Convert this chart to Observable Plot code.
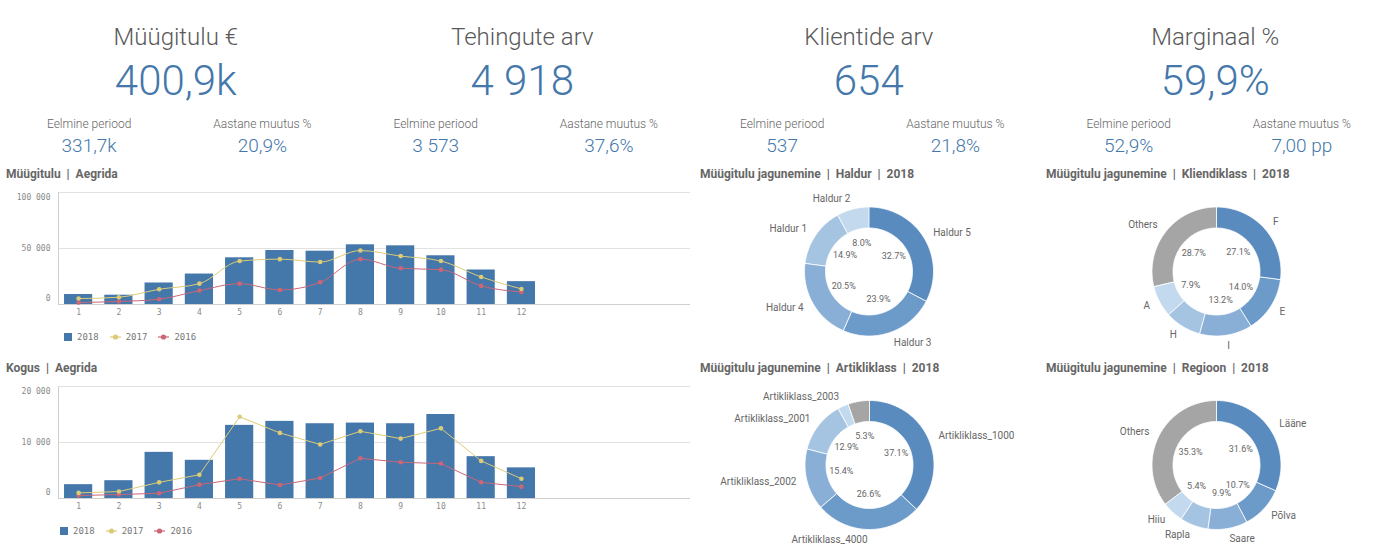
<!DOCTYPE html>
<html>
<head>
<meta charset="utf-8">
<script src="https://cdn.jsdelivr.net/npm/d3@7"></script>
<script src="https://cdn.jsdelivr.net/npm/@observablehq/plot@0.6"></script>
<style>
  html, body { margin: 0; padding: 0; background: #fff; }
  body { width: 1386px; height: 552px; position: relative; overflow: hidden; font-family: Roboto, sans-serif; }
  .abs { position: absolute; }
  .kpi-title { font-size: 24px; font-weight: 300; color: #595959; line-height: 24px; text-align: center; white-space: nowrap; }
  .kpi-value { font-size: 42px; font-weight: 300; color: #4477aa; line-height: 42px; text-align: center; white-space: nowrap; }
  .kpi-sub { font-size: 12px; font-weight: 300; color: #666; line-height: 12px; text-align: center; white-space: nowrap; }
  .kpi-subval { font-size: 19px; font-weight: 300; color: #4477aa; line-height: 19px; text-align: center; white-space: nowrap; }
  .ctitle { font-size: 12px; font-weight: 700; color: #666; line-height: 12px; white-space: pre; }
  .legend { display: flex; align-items: center; font-family: "DejaVu Sans Mono", monospace; font-size: 9px; color: #777; white-space: nowrap; }
  .legend .it { display: flex; align-items: center; margin-right: 11px; }
  .legend svg { margin-right: 5px; }
  svg { overflow: visible; }
</style>
</head>
<body>
<script>
// ---------- DATA ----------
const kpiTitles = ["Müügitulu €", "Tehingute arv", "Klientide arv", "Marginaal %"];
const kpiValues = ["400,9k", "4 918", "654", "59,9%"];
const kpiSubLabels = ["Eelmine periood", "Aastane muutus %"];
const kpiPrev = ["331,7k", "3 573", "537", "52,9%"];
const kpiChange = ["20,9%", "37,6%", "21,8%", "7,00 pp"];

const months = [1, 2, 3, 4, 5, 6, 7, 8, 9, 10, 11, 12];
const years = ["2018", "2017", "2016"];

const sales2018 = [8900, 8300, 19200, 27200, 41700, 48200, 47600, 53300, 52400, 43500, 30800, 20400];
const sales2017 = [5300, 6500, 13600, 18600, 38800, 40500, 37900, 48200, 43200, 38800, 24600, 13900];
const sales2016 = [1800, 2700, 4700, 12400, 18600, 13000, 19800, 40500, 32300, 31100, 16600, 11200];
const salesTicks = [0, 50000, 100000];

const qty2018 = [2470, 3180, 8240, 6820, 13060, 13770, 13350, 13470, 13350, 15000, 7470, 5470];
const qty2017 = [1000, 1240, 2880, 4240, 14590, 11710, 9650, 12000, 10700, 12530, 6710, 3530];
const qty2016 = [530, 710, 940, 2470, 3530, 2410, 3650, 7180, 6470, 6240, 2880, 2120];
const qtyTicks = [0, 10000, 20000];

const chartTitles = ["Müügitulu  |  Aegrida", "Kogus  |  Aegrida"];

const haldurCats = ["Haldur 5", "Haldur 3", "Haldur 4", "Haldur 1", "Haldur 2"];
const haldurPct = [32.7, 23.9, 20.5, 14.9, 8.0];

const klassCats = ["F", "E", "I", "H", "A", "Others"];
const klassPct = [27.1, 14.0, 13.2, 9.1, 7.9, 28.7];
const klassHidePct = ["H"];

const artCats = ["Artikliklass_1000", "Artikliklass_4000", "Artikliklass_2002", "Artikliklass_2001", "Artikliklass_2003", "Others"];
const artPct = [37.1, 26.6, 15.4, 12.9, 2.7, 5.3];
const artHidePct = ["Artikliklass_2003"];
const artHideLabel = ["Others"];

const regCats = ["Lääne", "Põlva", "Saare", "Rapla", "Hiiu", "Others"];
const regPct = [31.6, 10.7, 9.9, 7.1, 5.4, 35.3];
const regHidePct = ["Rapla"];

const donutTitles = [
  "Müügitulu jagunemine  |  Haldur  |  2018",
  "Müügitulu jagunemine  |  Kliendiklass  |  2018",
  "Müügitulu jagunemine  |  Artikliklass  |  2018",
  "Müügitulu jagunemine  |  Regioon  |  2018"
];

// ---------- STYLES ----------
const yearColors = ["#4477aa", "#ddcc77", "#cc6677"];
const bluePalette = ["#5a8bbf", "#6c9ac9", "#89afd7", "#a5c4e2", "#c3daee"];
const othersColor = "#a5a5a5";

// ---------- HELPERS ----------
function place(node, left, top) {
  const d = document.createElement("div");
  d.className = "abs";
  d.style.left = left + "px";
  d.style.top = top + "px";
  d.appendChild(node);
  document.body.appendChild(d);
  return d;
}
function textDiv(cls, text, left, top, width) {
  const d = document.createElement("div");
  d.className = "abs " + cls;
  d.textContent = text;
  d.style.left = left + "px";
  d.style.top = top + "px";
  if (width != null) d.style.width = width + "px";
  document.body.appendChild(d);
  return d;
}

// ---------- KPIs ----------
const colW = 346.5;
kpiTitles.forEach((t, i) => {
  const left = 2.5 + i * colW;
  textDiv("kpi-title", t, left, 24.8, colW);
  textDiv("kpi-value", kpiValues[i], left, 59.6, colW);
  textDiv("kpi-sub", kpiSubLabels[0], left, 117.9, colW / 2);
  textDiv("kpi-sub", kpiSubLabels[1], left + colW / 2, 117.9, colW / 2);
  textDiv("kpi-subval", kpiPrev[i], left, 135.7, colW / 2);
  textDiv("kpi-subval", kpiChange[i], left + colW / 2, 135.7, colW / 2);
});

// ---------- BAR + LINE CHARTS ----------
const loc = d3.formatLocale({decimal: ",", thousands: " ", grouping: [3], currency: ["", "€"]});
const fmtThousands = loc.format(",");
const xDomain = [0.5, 16.2];

function comboChart(v2018, v2017, v2016, ticks, curve) {
  const bars = months.map((m, i) => ({m, v: v2018[i]}));
  const l17 = months.map((m, i) => ({m, v: v2017[i]}));
  const l16 = months.map((m, i) => ({m, v: v2016[i]}));
  const lo = ticks[0], hi = ticks[ticks.length - 1];
  const tickText = {x: xDomain[0], y: d => d, text: d => fmtThousands(d), textAnchor: "end", dx: -8,
    fontFamily: "DejaVu Sans Mono, monospace", fontSize: 8, fill: "#8a8a8a"};
  return Plot.plot({
    width: 700, height: 140,
    marginLeft: 58, marginRight: 10, marginTop: 10, marginBottom: 18,
    style: {fontFamily: "DejaVu Sans Mono, monospace", fontSize: "8px", color: "#8a8a8a", background: "transparent", overflow: "visible"},
    x: {domain: xDomain, ticks: months, tickFormat: d => String(d), tickSize: 0, tickPadding: 5, label: null},
    y: {domain: [lo, hi], axis: null},
    marks: [
      Plot.ruleY(ticks.slice(1), {stroke: "#e2e2e2"}),
      Plot.ruleY([lo], {stroke: "#cfcfcf"}),
      Plot.ruleX([xDomain[0]], {stroke: "#cfcfcf"}),
      Plot.text(ticks.filter(t => t === lo), {...tickText, dy: -6}),
      Plot.text(ticks.filter(t => t !== lo && t !== hi), tickText),
      Plot.text(ticks.filter(t => t === hi), {...tickText, dy: 5}),
      Plot.rectY(bars, {x1: d => d.m - 0.35, x2: d => d.m + 0.35, y: "v", fill: yearColors[0]}),
      Plot.line(l16, {x: "m", y: "v", stroke: yearColors[2], strokeWidth: 1, curve}),
      Plot.dot(l16, {x: "m", y: "v", r: 2.3, fill: yearColors[2], stroke: "none"}),
      Plot.line(l17, {x: "m", y: "v", stroke: yearColors[1], strokeWidth: 1, curve}),
      Plot.dot(l17, {x: "m", y: "v", r: 2.3, fill: yearColors[1], stroke: "none"})
    ]
  });
}

function legend(left, top) {
  const d = document.createElement("div");
  d.className = "abs legend";
  d.style.left = left + "px";
  d.style.top = top + "px";
  d.style.height = "12px";
  years.forEach((y, i) => {
    const it = document.createElement("div");
    it.className = "it";
    const ns = "http://www.w3.org/2000/svg";
    const s = document.createElementNS(ns, "svg");
    if (i === 0) {
      s.setAttribute("width", 8); s.setAttribute("height", 8);
      const r = document.createElementNS(ns, "rect");
      r.setAttribute("width", 8); r.setAttribute("height", 8); r.setAttribute("fill", yearColors[i]);
      s.appendChild(r);
    } else {
      s.setAttribute("width", 11); s.setAttribute("height", 8);
      const l = document.createElementNS(ns, "line");
      l.setAttribute("x1", 0); l.setAttribute("x2", 11); l.setAttribute("y1", 4); l.setAttribute("y2", 4);
      l.setAttribute("stroke", yearColors[i]); l.setAttribute("stroke-width", 1.2);
      const c = document.createElementNS(ns, "circle");
      c.setAttribute("cx", 5.5); c.setAttribute("cy", 4); c.setAttribute("r", 2.6); c.setAttribute("fill", yearColors[i]);
      s.appendChild(l); s.appendChild(c);
    }
    it.appendChild(s);
    const t = document.createElement("span");
    t.textContent = y;
    it.appendChild(t);
    d.appendChild(it);
  });
  document.body.appendChild(d);
}

textDiv("ctitle", chartTitles[0], 6, 168);
place(comboChart(sales2018, sales2017, sales2016, salesTicks, "monotone-x"), 0, 182);
legend(64, 331);

textDiv("ctitle", chartTitles[1], 6, 362);
place(comboChart(qty2018, qty2017, qty2016, qtyTicks, "linear"), 0, 376);
legend(60, 525);

// ---------- DONUTS ----------
const R = 64.5, rInner = 43.5 / 64.5, rPct = 0.45, rLab = 1.163;

function donut(cats, pcts, colors, W, H, cx, cy, hidePct = [], hideLabel = []) {
  const total = d3.sum(pcts);
  const cum = [0, ...d3.cumsum(pcts)];
  const slices = cats.map((c, i) => ({
    cat: c, pct: pcts[i],
    a0: 2 * Math.PI * cum[i] / total,
    a1: 2 * Math.PI * cum[i + 1] / total
  }));
  const pts = [];
  slices.forEach(s => {
    const n = Math.max(2, Math.ceil((s.a1 - s.a0) / (Math.PI / 120)));
    for (let k = 0; k <= n; k++) {
      const a = s.a0 + (s.a1 - s.a0) * k / n;
      pts.push({cat: s.cat, x: Math.sin(a), y: Math.cos(a)});
    }
    for (let k = n; k >= 0; k--) {
      const a = s.a0 + (s.a1 - s.a0) * k / n;
      pts.push({cat: s.cat, x: rInner * Math.sin(a), y: rInner * Math.cos(a)});
    }
  });
  const mids = slices.map(s => ({...s, mid: (s.a0 + s.a1) / 2}));
  const pctLabels = mids.filter(s => !hidePct.includes(s.cat));
  const outer = mids.filter(s => !hideLabel.includes(s.cat));
  const right = outer.filter(s => Math.sin(s.mid) > 0);
  const left = outer.filter(s => Math.sin(s.mid) <= 0);
  const lx = s => rLab * Math.sin(s.mid), ly = s => rLab * Math.cos(s.mid);
  return Plot.plot({
    width: W, height: H, margin: 0,
    style: {fontFamily: "Roboto, sans-serif", background: "transparent", overflow: "visible"},
    x: {domain: [-cx / R, (W - cx) / R], axis: null},
    y: {domain: [-(H - cy) / R, cy / R], axis: null},
    color: {domain: cats, range: colors},
    marks: [
      Plot.line(pts, {x: "x", y: "y", z: "cat", fill: "cat", stroke: "white", strokeWidth: 0.8, curve: "linear-closed"}),
      Plot.text(pctLabels, {x: s => rPct * Math.sin(s.mid), y: s => rPct * Math.cos(s.mid), text: s => s.pct.toFixed(1) + "%",
        fontFamily: "Roboto, sans-serif", fontSize: 9, fill: "#666"}),
      Plot.text(right, {x: lx, y: ly, text: "cat", textAnchor: "start", fontSize: 10, fill: "#666"}),
      Plot.text(left, {x: lx, y: ly, text: "cat", textAnchor: "end", fontSize: 10, fill: "#666"})
    ]
  });
}

const pal6 = [...bluePalette, othersColor];

textDiv("ctitle", donutTitles[0], 700, 168);
place(donut(haldurCats, haldurPct, bluePalette, 340, 175, 168.5, 86), 700, 185);

textDiv("ctitle", donutTitles[1], 1046, 168);
place(donut(klassCats, klassPct, pal6, 346, 175, 176, 86, klassHidePct), 1040, 185);

textDiv("ctitle", donutTitles[2], 700, 362);
place(donut(artCats, artPct, pal6, 340, 172, 169, 84.5, artHidePct, artHideLabel), 700, 380);

textDiv("ctitle", donutTitles[3], 1046, 362);
place(donut(regCats, regPct, pal6, 346, 172, 176, 84.5, regHidePct), 1040, 380);
</script>
</body>
</html>
